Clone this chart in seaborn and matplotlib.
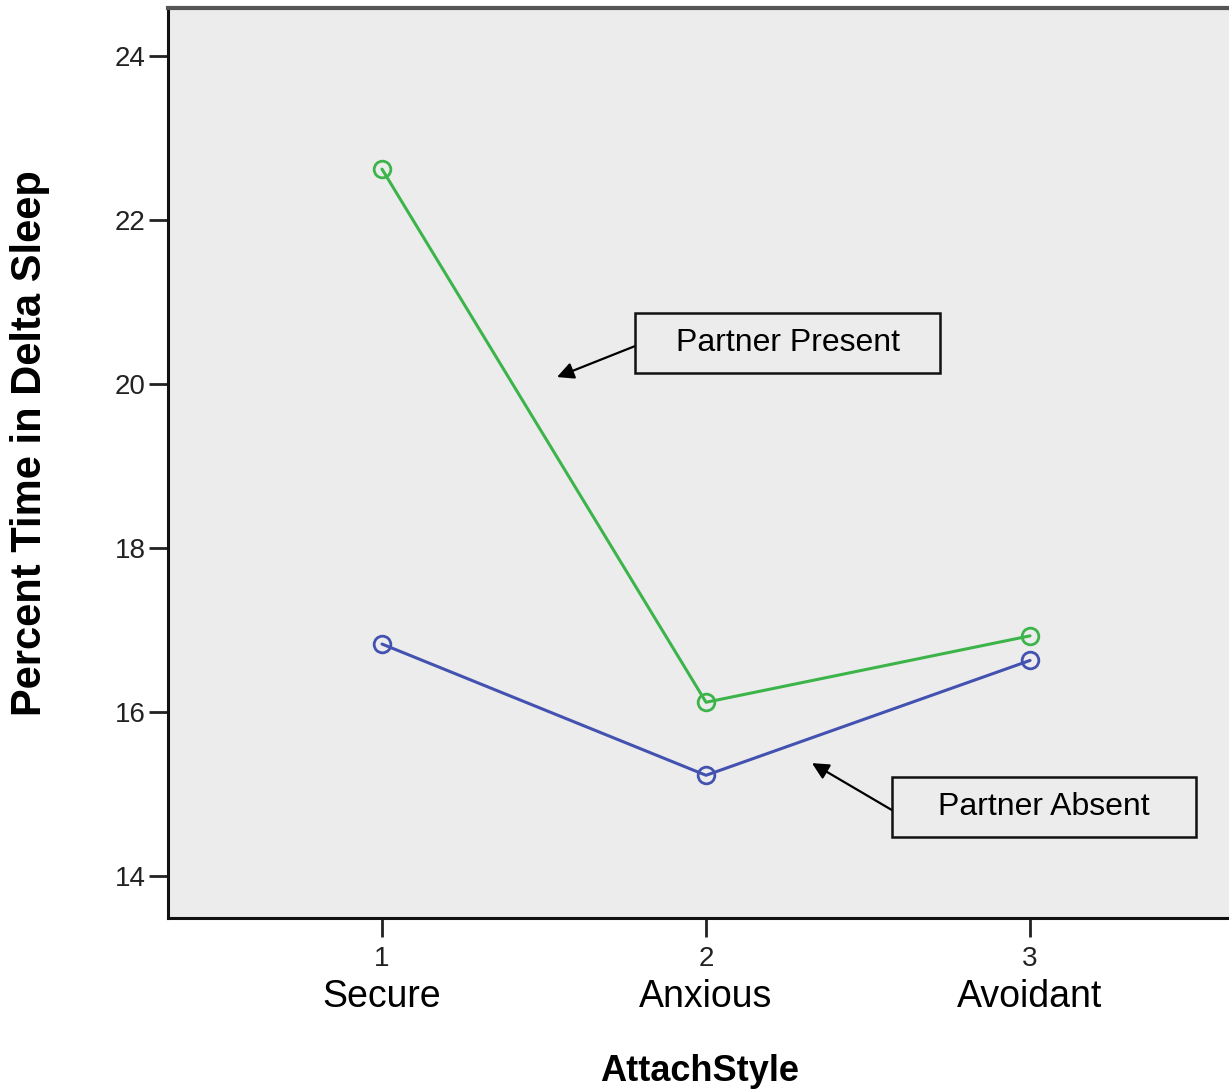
import matplotlib
matplotlib.use("Agg")
import matplotlib.pyplot as plt
import numpy as np
import pandas as pd
import seaborn as sns
from matplotlib.patches import Rectangle

# data
attach_codes = [1, 2, 3]
attach_names = ["Secure", "Anxious", "Avoidant"]
partner_present = [22.62, 16.12, 16.93]
partner_absent = [16.83, 15.23, 16.63]
y_ticks = [14, 16, 18, 20, 22, 24]

GREEN = "#3cb44a"
BLUE = "#4352b0"
BG = "#ececec"

sns.set_style("white")
plt.rcParams["font.family"] = ["Liberation Sans", "DejaVu Sans"]
plt.rcParams["text.color"] = "black"


def main() -> None:
    df = pd.DataFrame(
        {
            "AttachStyle": attach_codes * 2,
            "Delta": partner_present + partner_absent,
            "Condition": ["Present"] * 3 + ["Absent"] * 3,
        }
    )

    fig = plt.figure(figsize=(12.29, 10.9), dpi=100)
    ax = fig.add_axes([0.1367, 0.1578, 0.8633, 0.8349])
    ax.set_facecolor(BG)

    sns.lineplot(
        ax=ax,
        data=df,
        x="AttachStyle",
        y="Delta",
        hue="Condition",
        palette={"Present": GREEN, "Absent": BLUE},
        marker="o",
        markersize=12,
        markerfacecolor="none",
        markeredgewidth=2,
        linewidth=2.2,
        legend=False,
    )
    for line in ax.lines:
        line.set_markeredgecolor(line.get_color())

    ax.set_xlim(0.3395, 3.614)
    ax.set_ylim(13.49, 24.585)
    ax.set_xticks(attach_codes)
    ax.set_xticklabels([str(c) for c in attach_codes])
    ax.set_yticks(y_ticks)
    ax.tick_params(axis="both", direction="out", length=14, width=2, labelsize=20,
                   colors="#222222", bottom=True, left=True)
    ax.tick_params(axis="x", pad=6)
    ax.tick_params(axis="y", pad=2)

    for side in ["left", "bottom"]:
        ax.spines[side].set_color("#111111")
        ax.spines[side].set_linewidth(2.2)
    ax.spines["top"].set_color("#555555")
    ax.spines["top"].set_linewidth(3)
    ax.spines["right"].set_visible(False)

    for code, name in zip(attach_codes, attach_names):
        ax.text(code, -0.087, name, transform=ax.get_xaxis_transform(),
                ha="center", va="center", fontsize=27, color="black")

    ax.set_xlabel("AttachStyle", fontsize=26, fontweight="bold", color="black")
    ax.set_ylabel("Percent Time in Delta Sleep", fontsize=30, fontweight="bold",
                  color="black")
    ax.xaxis.set_label_coords(0.501, -0.149)
    ax.yaxis.set_label_coords(-0.111, 0.522)

    # annotation boxes
    boxes = [
        ("Partner Present", (1.781, 20.134), (0.941, 0.732), (1.781, 20.463), (1.540, 20.085)),
        ("Partner Absent", (2.574, 14.476), (0.938, 0.731), (2.574, 14.805), (2.327, 15.378)),
    ]
    for label, (bx, by), (bw, bh), start, tip in boxes:
        ax.add_patch(Rectangle((bx, by), bw, bh, fill=False, edgecolor="#111111",
                               linewidth=1.8, zorder=4))
        ax.text(bx + bw / 2, by + bh / 2, label, ha="center", va="center",
                fontsize=23, color="black", zorder=5)
        ax.annotate("", xy=tip, xytext=start,
                    arrowprops=dict(arrowstyle="-|>", color="black", lw=1.6,
                                    mutation_scale=25, shrinkA=0, shrinkB=0))

    fig.savefig("out.png", dpi=100)


if __name__ == "__main__":
    main()
